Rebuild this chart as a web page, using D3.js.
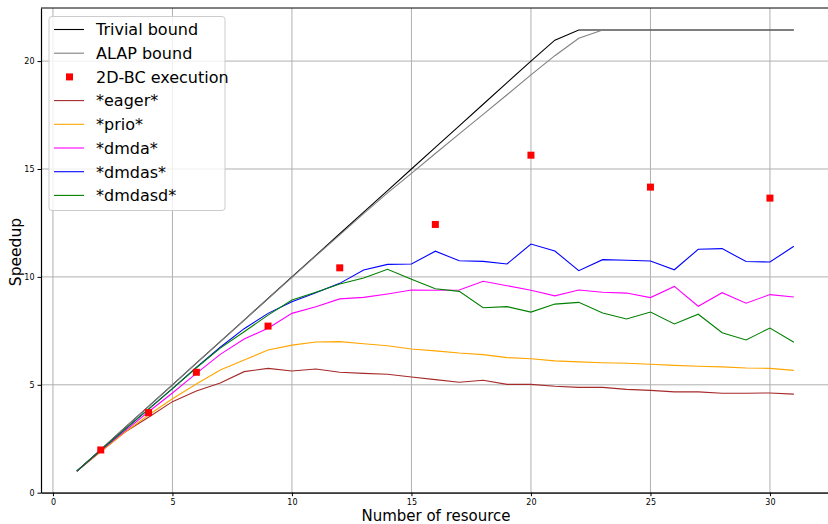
<!DOCTYPE html>
<html>
<head>
<meta charset="utf-8">
<script src="https://cdn.jsdelivr.net/npm/d3@7"></script>
<style>
  body { margin: 0; background: #fff; }
  svg { font-family: "DejaVu Sans", sans-serif; }
</style>
</head>
<body>
<div id="canvas"></div>
<script>
// resources 1..31
const resources = d3.range(1, 32);

const trivial = [1, 2, 3, 4, 5, 6, 7, 8, 9, 10, 11, 12, 13, 14, 15, 16, 17, 18, 19, 20,
  20.97, 21.44, 21.44, 21.44, 21.44, 21.44, 21.44, 21.44, 21.44, 21.44, 21.44];
const alap = [1, 2, 3, 4, 5, 6, 7, 7.99, 8.99, 9.98, 10.97, 11.95, 12.93, 13.89, 14.8,
  15.72, 16.63, 17.53, 18.44, 19.36, 20.25, 21.06, 21.44, 21.44, 21.44, 21.44, 21.44,
  21.44, 21.44, 21.44, 21.44];
const eager = [1, 1.9, 2.8, 3.5, 4.22, 4.71, 5.08, 5.61, 5.76, 5.64, 5.73, 5.58, 5.53, 5.49,
  5.36, 5.24, 5.12, 5.21, 5.02, 5.02, 4.93, 4.88, 4.88, 4.79, 4.74, 4.67, 4.67, 4.61, 4.61,
  4.62, 4.57];
const prio = [1, 1.9, 2.8, 3.6, 4.35, 5.04, 5.69, 6.15, 6.61, 6.84, 6.98, 7.0, 6.9, 6.81,
  6.66, 6.57, 6.47, 6.4, 6.26, 6.21, 6.11, 6.06, 6.02, 6.0, 5.95, 5.9, 5.86, 5.83, 5.78,
  5.76, 5.67];
const dmda = [1, 1.95, 2.85, 3.75, 4.62, 5.53, 6.41, 7.12, 7.62, 8.31, 8.62, 8.98, 9.05,
  9.21, 9.39, 9.38, 9.39, 9.8, 9.59, 9.38, 9.12, 9.39, 9.29, 9.25, 9.04, 9.56, 8.64, 9.27,
  8.78, 9.18, 9.07];
const dmdas = [1, 1.97, 2.92, 3.87, 4.82, 5.8, 6.74, 7.6, 8.31, 8.85, 9.27, 9.7, 10.32,
  10.58, 10.6, 11.19, 10.75, 10.72, 10.6, 11.52, 11.2, 10.29, 10.8, 10.77, 10.74, 10.33,
  11.28, 11.31, 10.71, 10.69, 11.42];
const dmdasd = [1, 1.97, 2.92, 3.87, 4.82, 5.79, 6.7, 7.46, 8.23, 8.93, 9.29, 9.67, 9.95,
  10.35, 9.89, 9.45, 9.33, 8.57, 8.62, 8.37, 8.74, 8.82, 8.33, 8.05, 8.37, 7.82, 8.27,
  7.41, 7.08, 7.63, 6.97];

const bcResources = [2, 4, 6, 9, 12, 16, 20, 25, 30];
const bcSpeedup = [1.98, 3.71, 5.58, 7.72, 10.42, 12.43, 15.64, 14.16, 13.65];

const xTicks = [0, 5, 10, 15, 20, 25, 30];
const yTicks = [0, 5, 10, 15, 20];

const series = [
  { name: "Trivial bound", values: trivial, color: "#000000" },
  { name: "ALAP bound", values: alap, color: "#808080" },
  { name: "*eager*", values: eager, color: "#a52a2a" },
  { name: "*prio*", values: prio, color: "#ffa500" },
  { name: "*dmda*", values: dmda, color: "#ff00ff" },
  { name: "*dmdas*", values: dmdas, color: "#0000ff" },
  { name: "*dmdasd*", values: dmdasd, color: "#008000" }
];

const width = 828;
const height = 524;
const margin = { top: 8, left: 41, bottom: 31.3, right: -1.7 };

const svg = d3.select("#canvas").append("svg")
  .attr("width", width)
  .attr("height", height);

const x = d3.scaleLinear().domain([-0.5, 32.5]).range([margin.left, width - margin.right]);
const y = d3.scaleLinear().domain([0, 22.46]).range([height - margin.bottom, margin.top]);

// grid
const grid = svg.append("g").attr("stroke", "#b0b0b0").attr("stroke-width", 1);
grid.selectAll(".gx").data(xTicks).enter().append("line")
  .attr("x1", d => x(d)).attr("x2", d => x(d))
  .attr("y1", y.range()[0]).attr("y2", y.range()[1]);
grid.selectAll(".gy").data(yTicks).enter().append("line")
  .attr("x1", x.range()[0]).attr("x2", x.range()[1])
  .attr("y1", d => y(d)).attr("y2", d => y(d));

// lines
const line = d3.line().x((d, i) => x(resources[i])).y(d => y(d));
svg.append("g").selectAll("path").data(series).enter().append("path")
  .attr("d", d => line(d.values))
  .attr("fill", "none")
  .attr("stroke", d => d.color)
  .attr("stroke-width", 1.1);

// 2D-BC points
svg.append("g").selectAll("rect").data(bcResources).enter().append("rect")
  .attr("x", (d) => x(d) - 3.5)
  .attr("y", (d, i) => y(bcSpeedup[i]) - 3.5)
  .attr("width", 7).attr("height", 7)
  .attr("fill", "#ff0000");

// axes
const xAxis = svg.append("g")
  .attr("transform", `translate(0,${y(0)})`)
  .call(d3.axisBottom(x).tickValues(xTicks).tickSize(3.5).tickPadding(3).tickSizeOuter(0));
const yAxis = svg.append("g")
  .attr("transform", `translate(${margin.left},0)`)
  .call(d3.axisLeft(y).tickValues(yTicks).tickSize(3.5).tickPadding(3).tickSizeOuter(0));
[xAxis, yAxis].forEach(a => {
  a.selectAll("text").attr("font-size", 8).attr("font-family", "DejaVu Sans").attr("fill", "#000");
  a.select(".domain").attr("stroke", "#000").attr("stroke-width", 1.2);
});

// top spine
svg.append("line")
  .attr("x1", margin.left).attr("x2", width)
  .attr("y1", y(22.46)).attr("y2", y(22.46))
  .attr("stroke", "#000").attr("stroke-width", 1);

// labels
svg.append("text")
  .attr("x", 436).attr("y", 521)
  .attr("text-anchor", "middle")
  .attr("font-size", 15)
  .text("Number of resource");
svg.append("text")
  .attr("transform", "translate(21,252) rotate(-90)")
  .attr("text-anchor", "middle")
  .attr("font-size", 15.5)
  .text("Speedup");

// legend
const legendItems = [
  { name: "Trivial bound", color: "#000000", type: "line" },
  { name: "ALAP bound", color: "#808080", type: "line" },
  { name: "2D-BC execution", color: "#ff0000", type: "square" },
  { name: "*eager*", color: "#a52a2a", type: "line" },
  { name: "*prio*", color: "#ffa500", type: "line" },
  { name: "*dmda*", color: "#ff00ff", type: "line" },
  { name: "*dmdas*", color: "#0000ff", type: "line" },
  { name: "*dmdasd*", color: "#008000", type: "line" }
];
const legend = svg.append("g");
legend.append("rect")
  .attr("x", 49).attr("y", 16.5).attr("width", 176).attr("height", 194)
  .attr("rx", 3)
  .attr("fill", "#fff").attr("fill-opacity", 0.8)
  .attr("stroke", "#cccccc").attr("stroke-width", 1);
const rows = legend.selectAll(".row").data(legendItems).enter().append("g")
  .attr("transform", (d, i) => `translate(0,${29.5 + i * 23.7})`);
rows.filter(d => d.type === "line").append("line")
  .attr("x1", 54).attr("x2", 84).attr("y1", 0).attr("y2", 0)
  .attr("stroke", d => d.color).attr("stroke-width", 1.1);
rows.filter(d => d.type === "square").append("rect")
  .attr("x", 66).attr("y", -3.5).attr("width", 7).attr("height", 7)
  .attr("fill", d => d.color);
rows.append("text")
  .attr("x", 96).attr("y", 5.8)
  .attr("font-size", 16)
  .text(d => d.name);
</script>
</body>
</html>
